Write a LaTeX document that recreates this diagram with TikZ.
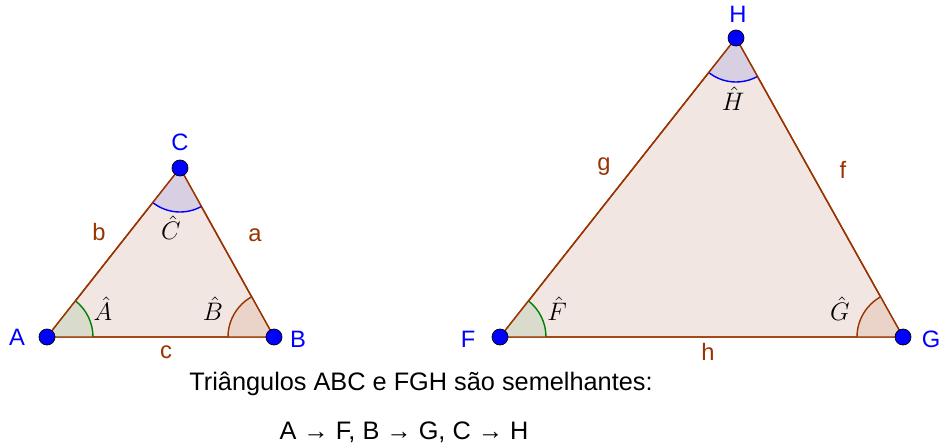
\documentclass[tikz,border=0pt]{standalone}
\usepackage{fontspec}
\setmainfont{Liberation Sans}
\usepackage{amsmath}
\usepackage{tikz}
\usetikzlibrary{angles}
\definecolor{edge}{HTML}{993300}
\definecolor{trifill}{HTML}{F2E6E2}
\definecolor{ptblue}{HTML}{0000FF}
\definecolor{arcgreen}{HTML}{007F00}
\definecolor{fillgreen}{HTML}{D9DBCC}
\definecolor{fillbrown}{HTML}{EAD4CA}
\definecolor{filllav}{HTML}{D8CFE2}
\tikzset{pt/.style={circle,draw=black,fill=ptblue,inner sep=0pt,minimum size=0.32cm},
  vlbl/.style={text=ptblue,font=\fontsize{13.5}{16}\selectfont},
  slbl/.style={text=edge,font=\fontsize{13.5}{16}\selectfont},
  alabel/.style={inner sep=0pt,font=\fontsize{14}{16}\selectfont},
  tri/.style={draw=edge,fill=trifill,thick}}
\begin{document}
\begin{tikzpicture}
\useasboundingbox (0,0) rectangle (18.82,8.88);
\coordinate (A) at (0.94,2.14);
\coordinate (B) at (5.48,2.14);
\coordinate (C) at (3.60,5.52);
\coordinate (F) at (10.00,2.14);
\coordinate (G) at (18.06,2.14);
\coordinate (H) at (14.72,8.12);
\draw[tri] (A) -- (B) -- (C) -- cycle;
\draw[tri] (F) -- (G) -- (H) -- cycle;
\pic[draw=arcgreen,fill=fillgreen,thick,angle radius=0.92cm] {angle=B--A--C};
\pic[draw=edge,fill=fillbrown,thick,angle radius=0.92cm] {angle=C--B--A};
\pic[draw=ptblue,fill=filllav,thick,angle radius=0.88cm] {angle=A--C--B};
\pic[draw=arcgreen,fill=fillgreen,thick,angle radius=0.92cm] {angle=G--F--H};
\pic[draw=edge,fill=fillbrown,thick,angle radius=0.92cm] {angle=H--G--F};
\pic[draw=ptblue,fill=filllav,thick,angle radius=0.88cm] {angle=F--H--G};
\draw[edge,thick] (A) -- (B) -- (C) -- cycle;
\draw[edge,thick] (F) -- (G) -- (H) -- cycle;
\foreach \p in {A,B,C,F,G,H}{\node[pt] (n\p) at (\p) {};}
\node[vlbl] (lA) at (0.34,2.14) {A};
\node[vlbl] (lB) at (5.96,2.10) {B};
\node[vlbl] (lC) at (3.60,6.04) {C};
\node[vlbl] (lF) at (9.36,2.10) {F};
\node[vlbl] (lG) at (18.62,2.10) {G};
\node[vlbl] (lH) at (14.76,8.60) {H};
\node[slbl] (sa) at (5.10,4.18) {a};
\node[slbl] (sb) at (1.98,4.24) {b};
\node[slbl] (sc) at (3.32,1.84) {c};
\node[slbl] (sf) at (16.86,5.48) {f};
\node[slbl] (sg) at (12.08,5.54) {g};
\node[slbl] (sh) at (14.16,1.84) {h};
\node[alabel] (aA) at (2.06,2.70) {$\hat{A}$};
\node[alabel] (aB) at (4.26,2.70) {$\hat{B}$};
\node[alabel] (aC) at (3.42,4.32) {$\hat{C}$};
\node[alabel] (aF) at (11.14,2.70) {$\hat{F}$};
\node[alabel] (aG) at (16.80,2.70) {$\hat{G}$};
\node[alabel] (aH) at (14.66,6.90) {$\hat{H}$};
\node[font=\Large] (txt) at (8.42,1.20) {Triângulos ABC e FGH são semelhantes:};
\node[font=\Large] (map) at (8.08,0.24) {A → F, B → G, C → H};
\end{tikzpicture}
\end{document}
